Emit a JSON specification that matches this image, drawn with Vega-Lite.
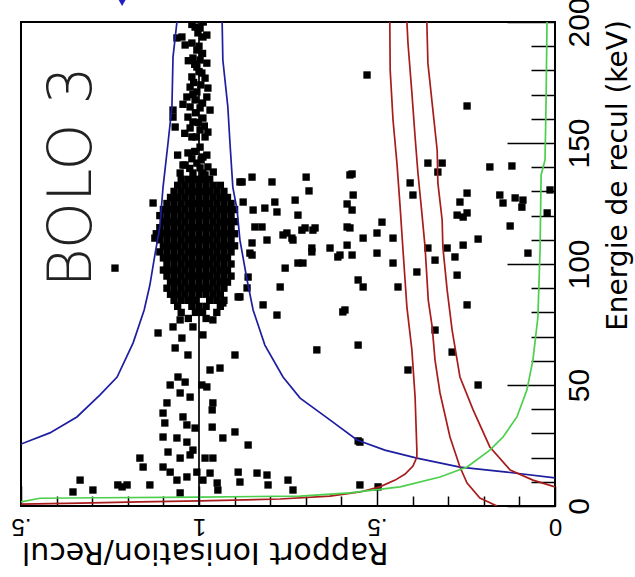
{
  "$schema": "https://vega.github.io/schema/vega-lite/v6.json",
  "width": 534,
  "height": 484,
  "autosize": {"type": "none"},
  "padding": {"left": 21, "top": 22, "right": 80, "bottom": 71},
  "background": "white",
  "config": {
    "view": {"stroke": "black", "strokeWidth": 2},
    "axis": {"grid": false, "domain": false, "tickColor": "black", "tickWidth": 1.5, "labelColor": "black", "titleColor": "black"}
  },
  "datasets": {
    "pts": [
      {"q":0.97,"e":135},{"q":0.99,"e":135},{"q":1.01,"e":135},{"q":1.03,"e":135},{"q":1.05,"e":135},
      {"q":0.94,"e":132.5},{"q":0.96,"e":132.5},{"q":0.98,"e":132.5},{"q":1.00,"e":132.5},{"q":1.02,"e":132.5},{"q":1.04,"e":132.5},{"q":1.06,"e":132.5},
      {"q":0.93,"e":130},{"q":0.95,"e":130},{"q":0.97,"e":130},{"q":0.99,"e":130},{"q":1.01,"e":130},{"q":1.03,"e":130},{"q":1.05,"e":130},{"q":1.07,"e":130},
      {"q":0.92,"e":127.5},{"q":0.94,"e":127.5},{"q":0.96,"e":127.5},{"q":0.98,"e":127.5},{"q":1.00,"e":127.5},{"q":1.02,"e":127.5},{"q":1.04,"e":127.5},{"q":1.06,"e":127.5},{"q":1.08,"e":127.5},
      {"q":0.91,"e":125},{"q":0.93,"e":125},{"q":0.95,"e":125},{"q":0.97,"e":125},{"q":0.99,"e":125},{"q":1.01,"e":125},{"q":1.03,"e":125},{"q":1.05,"e":125},{"q":1.07,"e":125},{"q":1.09,"e":125},
      {"q":0.90,"e":122.5},{"q":0.92,"e":122.5},{"q":0.94,"e":122.5},{"q":0.96,"e":122.5},{"q":0.98,"e":122.5},{"q":1.00,"e":122.5},{"q":1.02,"e":122.5},{"q":1.04,"e":122.5},{"q":1.06,"e":122.5},{"q":1.08,"e":122.5},{"q":1.10,"e":122.5},
      {"q":0.91,"e":120},{"q":0.93,"e":120},{"q":0.95,"e":120},{"q":0.97,"e":120},{"q":0.99,"e":120},{"q":1.01,"e":120},{"q":1.03,"e":120},{"q":1.05,"e":120},{"q":1.07,"e":120},{"q":1.09,"e":120},{"q":1.11,"e":120},
      {"q":0.90,"e":117.5},{"q":0.92,"e":117.5},{"q":0.94,"e":117.5},{"q":0.96,"e":117.5},{"q":0.98,"e":117.5},{"q":1.00,"e":117.5},{"q":1.02,"e":117.5},{"q":1.04,"e":117.5},{"q":1.06,"e":117.5},{"q":1.08,"e":117.5},{"q":1.10,"e":117.5},
      {"q":0.91,"e":115},{"q":0.93,"e":115},{"q":0.95,"e":115},{"q":0.97,"e":115},{"q":0.99,"e":115},{"q":1.01,"e":115},{"q":1.03,"e":115},{"q":1.05,"e":115},{"q":1.07,"e":115},{"q":1.09,"e":115},{"q":1.11,"e":115},
      {"q":0.90,"e":112.5},{"q":0.92,"e":112.5},{"q":0.94,"e":112.5},{"q":0.96,"e":112.5},{"q":0.98,"e":112.5},{"q":1.00,"e":112.5},{"q":1.02,"e":112.5},{"q":1.04,"e":112.5},{"q":1.06,"e":112.5},{"q":1.08,"e":112.5},{"q":1.10,"e":112.5},{"q":1.12,"e":112.5},
      {"q":0.91,"e":110},{"q":0.93,"e":110},{"q":0.95,"e":110},{"q":0.97,"e":110},{"q":0.99,"e":110},{"q":1.01,"e":110},{"q":1.03,"e":110},{"q":1.05,"e":110},{"q":1.07,"e":110},{"q":1.09,"e":110},{"q":1.11,"e":110},
      {"q":0.90,"e":107.5},{"q":0.92,"e":107.5},{"q":0.94,"e":107.5},{"q":0.96,"e":107.5},{"q":0.98,"e":107.5},{"q":1.00,"e":107.5},{"q":1.02,"e":107.5},{"q":1.04,"e":107.5},{"q":1.06,"e":107.5},{"q":1.08,"e":107.5},{"q":1.10,"e":107.5},
      {"q":0.91,"e":105},{"q":0.93,"e":105},{"q":0.95,"e":105},{"q":0.97,"e":105},{"q":0.99,"e":105},{"q":1.01,"e":105},{"q":1.03,"e":105},{"q":1.05,"e":105},{"q":1.07,"e":105},{"q":1.09,"e":105},{"q":1.11,"e":105},
      {"q":0.92,"e":102.5},{"q":0.94,"e":102.5},{"q":0.96,"e":102.5},{"q":0.98,"e":102.5},{"q":1.00,"e":102.5},{"q":1.02,"e":102.5},{"q":1.04,"e":102.5},{"q":1.06,"e":102.5},{"q":1.08,"e":102.5},{"q":1.10,"e":102.5},
      {"q":0.91,"e":100},{"q":0.93,"e":100},{"q":0.95,"e":100},{"q":0.97,"e":100},{"q":0.99,"e":100},{"q":1.01,"e":100},{"q":1.03,"e":100},{"q":1.05,"e":100},{"q":1.07,"e":100},{"q":1.09,"e":100},
      {"q":0.92,"e":97.5},{"q":0.94,"e":97.5},{"q":0.96,"e":97.5},{"q":0.98,"e":97.5},{"q":1.00,"e":97.5},{"q":1.02,"e":97.5},{"q":1.04,"e":97.5},{"q":1.06,"e":97.5},{"q":1.08,"e":97.5},{"q":1.10,"e":97.5},
      {"q":0.91,"e":95},{"q":0.93,"e":95},{"q":0.95,"e":95},{"q":0.97,"e":95},{"q":0.99,"e":95},{"q":1.01,"e":95},{"q":1.03,"e":95},{"q":1.05,"e":95},{"q":1.07,"e":95},{"q":1.09,"e":95},
      {"q":0.92,"e":92.5},{"q":0.94,"e":92.5},{"q":0.96,"e":92.5},{"q":0.98,"e":92.5},{"q":1.00,"e":92.5},{"q":1.02,"e":92.5},{"q":1.04,"e":92.5},{"q":1.06,"e":92.5},{"q":1.08,"e":92.5},
      {"q":0.93,"e":90},{"q":0.95,"e":90},{"q":0.97,"e":90},{"q":0.99,"e":90},{"q":1.01,"e":90},{"q":1.03,"e":90},{"q":1.05,"e":90},{"q":1.07,"e":90},{"q":1.09,"e":90},
      {"q":0.94,"e":87.5},{"q":0.96,"e":87.5},{"q":0.98,"e":87.5},{"q":1.00,"e":87.5},{"q":1.02,"e":87.5},{"q":1.04,"e":87.5},{"q":1.06,"e":87.5},{"q":1.08,"e":87.5},
      {"q":0.93,"e":85},{"q":0.95,"e":85},{"q":0.97,"e":85},{"q":1.01,"e":85},{"q":1.03,"e":85},{"q":1.05,"e":85},{"q":1.07,"e":85},
      {"q":0.94,"e":82.5},{"q":0.98,"e":82.5},{"q":1.00,"e":82.5},{"q":1.02,"e":82.5},{"q":1.06,"e":82.5},
      {"q":0.95,"e":80},{"q":0.99,"e":80},{"q":1.01,"e":80},{"q":1.05,"e":80},
      {"q":0.98,"e":77.5},{"q":1.03,"e":77.5},
      {"q":1.053,"e":76.9},{"q":1.017,"e":74.0},{"q":0.961,"e":76.9},{"q":1.073,"e":74.0},{"q":0.989,"e":70.7},
      {"q":1.011,"e":197.9},{"q":0.997,"e":197.5},{"q":0.989,"e":193.8},{"q":0.978,"e":194.6},{"q":1.062,"e":193.4},{"q":1.048,"e":193.8},
      {"q":1.020,"e":191.3},{"q":1.006,"e":188.4},{"q":1.039,"e":190.5},{"q":1.017,"e":185.1},{"q":0.997,"e":184.3},{"q":0.978,"e":183.0},
      {"q":1.006,"e":181.4},{"q":1.020,"e":177.3},{"q":0.992,"e":178.9},{"q":0.983,"e":176.8},{"q":1.025,"e":173.1},{"q":1.006,"e":171.1},
      {"q":0.975,"e":172.7},{"q":1.034,"e":169.0},{"q":1.011,"e":167.8},{"q":0.978,"e":169.0},{"q":1.025,"e":164.9},{"q":0.997,"e":164.5},
      {"q":0.969,"e":163.6},{"q":1.073,"e":163.6},{"q":1.073,"e":160.7},{"q":1.067,"e":156.6},{"q":1.031,"e":160.7},{"q":1.017,"e":158.7},
      {"q":0.989,"e":160.3},{"q":1.025,"e":156.2},{"q":0.997,"e":155.4},{"q":0.975,"e":154.5},{"q":1.020,"e":152.5},{"q":0.983,"e":152.5},
      {"q":0.997,"e":148.3},{"q":1.031,"e":145.9},{"q":0.989,"e":144.2},{"q":0.978,"e":145.0},{"q":1.006,"e":141.7},{"q":1.039,"e":140.9},
      {"q":0.997,"e":139.7},{"q":0.975,"e":140.1},{"q":1.053,"e":137.6},{"q":1.017,"e":137.6},{"q":0.989,"e":137.6},{"q":1.045,"e":140.9},{"q":0.983,"e":136.8},
      {"q":1.003,"e":195.5},{"q":1.000,"e":190.0},{"q":0.990,"e":187.0},{"q":1.012,"e":182.5},{"q":1.000,"e":179.5},{"q":1.015,"e":175.0},
      {"q":0.995,"e":174.0},{"q":1.017,"e":170.0},{"q":0.990,"e":166.5},{"q":1.010,"e":162.5},{"q":1.045,"e":166.0},{"q":1.002,"e":158.5},
      {"q":0.985,"e":157.0},{"q":1.008,"e":152.5},{"q":1.040,"e":154.0},{"q":1.012,"e":146.5},{"q":1.020,"e":143.5},{"q":0.994,"e":143.0},
      {"q":1.026,"e":139.5},{"q":0.96,"e":138.0},{"q":1.06,"e":145.0},{"q":1.030,"e":184.0},{"q":0.988,"e":200.0},{"q":1.020,"e":199.0},
      {"q":0.528,"e":178.1},{"q":0.247,"e":165.3},{"q":0.357,"e":141.7},{"q":0.317,"e":141.7},{"q":0.329,"e":138.0},{"q":0.183,"e":140.1},
      {"q":0.121,"e":140.5},{"q":0.699,"e":135.9},{"q":0.691,"e":130.2},{"q":0.570,"e":137.2},{"q":0.407,"e":133.5},{"q":0.567,"e":128.5},
      {"q":0.584,"e":124.8},{"q":0.570,"e":122.3},{"q":0.399,"e":128.5},{"q":0.247,"e":129.3},{"q":0.267,"e":125.6},{"q":0.155,"e":128.5},
      {"q":0.146,"e":125.2},{"q":0.112,"e":127.3},{"q":0.090,"e":126.4},{"q":0.093,"e":123.5},{"q":0.022,"e":121.1},{"q":0.275,"e":120.2},
      {"q":0.258,"e":119.4},{"q":0.247,"e":121.1},{"q":0.126,"e":115.7},{"q":0.711,"e":114.0},{"q":0.680,"e":114.0},{"q":0.576,"e":114.9},
      {"q":0.486,"e":117.3},{"q":0.500,"e":112.8},{"q":0.539,"e":110.7},{"q":0.455,"e":110.7},{"q":0.584,"e":107.8},{"q":0.632,"e":106.6},
      {"q":0.683,"e":106.6},{"q":0.258,"e":107.8},{"q":0.216,"e":110.3},{"q":0.303,"e":106.6},{"q":0.357,"e":106.6},{"q":0.014,"e":130.6},
      {"q":0.683,"e":105.0},{"q":0.610,"e":102.9},{"q":0.570,"e":103.7},{"q":0.500,"e":104.5},{"q":0.708,"e":100.4},{"q":0.455,"e":100.4},
      {"q":0.337,"e":101.6},{"q":0.281,"e":102.9},{"q":0.275,"e":95.4},{"q":0.553,"e":93.4},{"q":0.539,"e":90.5},{"q":0.441,"e":90.5},
      {"q":0.388,"e":96.7},{"q":0.076,"e":104.5},{"q":0.590,"e":81.0},{"q":0.247,"e":83.1},{"q":0.337,"e":72.7},{"q":0.553,"e":66.5},
      {"q":0.669,"e":64.5},{"q":0.289,"e":63.6},{"q":0.413,"e":56.2},{"q":0.216,"e":50.0},{"q":0.553,"e":26.9},{"q":0.548,"e":8.7},
      {"q":0.851,"e":135.9},{"q":0.879,"e":133.9},{"q":0.795,"e":133.9},{"q":0.576,"e":136.8},{"q":0.876,"e":125.6},{"q":0.848,"e":122.3},
      {"q":0.815,"e":123.1},{"q":0.787,"e":125.6},{"q":0.781,"e":121.5},{"q":0.730,"e":126.4},{"q":0.722,"e":120.2},{"q":0.843,"e":115.3},
      {"q":0.851,"e":108.7},{"q":0.851,"e":103.7},{"q":0.809,"e":109.9},{"q":0.764,"e":112.0},{"q":0.739,"e":110.7},{"q":0.702,"e":114.9},
      {"q":0.674,"e":114.9},{"q":0.604,"e":103.7},{"q":0.584,"e":115.3},{"q":0.758,"e":98.3},{"q":0.772,"e":90.5},{"q":0.820,"e":83.1},
      {"q":0.781,"e":78.9},{"q":0.596,"e":80.2},{"q":1.129,"e":125.2},{"q":1.236,"e":98.3},{"q":1.115,"e":71.5},{"q":0.885,"e":86.4},
      {"q":0.862,"e":94.6},{"q":0.823,"e":115.3},{"q":0.753,"e":112.8},{"q":0.736,"e":109.9},{"q":1.124,"e":110.7},{"q":0.885,"e":133.9},
      {"q":0.722,"e":100.4},{"q":0.857,"e":104.5},{"q":0.890,"e":86.4},{"q":0.865,"e":90.1},{"q":0.933,"e":83.9},
      {"q":1.048,"e":69.4},{"q":1.067,"e":65.3},{"q":1.031,"e":62.4},{"q":0.899,"e":62.4},{"q":0.941,"e":57.0},{"q":0.969,"e":56.2},
      {"q":1.059,"e":53.3},{"q":1.081,"e":50.0},{"q":1.039,"e":51.2},{"q":1.053,"e":46.7},{"q":1.025,"e":45.0},{"q":0.992,"e":50.0},
      {"q":0.978,"e":49.2},{"q":0.961,"e":42.6},{"q":0.963,"e":39.7},{"q":1.090,"e":42.6},{"q":1.101,"e":38.4},{"q":1.096,"e":34.3},
      {"q":1.045,"e":36.8},{"q":1.034,"e":33.5},{"q":1.011,"e":32.2},{"q":0.963,"e":32.6},{"q":0.899,"e":30.6},{"q":0.933,"e":28.1},
      {"q":0.862,"e":25.2},{"q":1.101,"e":28.5},{"q":1.062,"e":28.1},{"q":1.034,"e":26.4},{"q":1.017,"e":23.1},{"q":1.087,"e":22.3},
      {"q":1.053,"e":19.8},{"q":1.025,"e":21.1},{"q":0.983,"e":19.8},{"q":0.961,"e":19.8},{"q":1.166,"e":19.8},{"q":1.157,"e":16.1},
      {"q":1.101,"e":16.1},{"q":1.081,"e":14.0},{"q":1.062,"e":10.7},{"q":1.034,"e":12.0},{"q":1.006,"e":14.0},{"q":0.989,"e":10.7},
      {"q":0.969,"e":13.6},{"q":0.949,"e":9.5},{"q":0.890,"e":14.0},{"q":0.837,"e":13.6},{"q":0.809,"e":12.8},{"q":0.806,"e":8.7},
      {"q":0.750,"e":10.7},{"q":0.885,"e":9.9},{"q":1.334,"e":10.7},{"q":1.228,"e":8.7},{"q":1.202,"e":8.7},{"q":1.138,"e":8.7},
      {"q":1.354,"e":5.8},{"q":1.298,"e":6.6},{"q":1.053,"e":5.4},{"q":0.947,"e":6.6},{"q":0.736,"e":6.6},{"q":0.548,"e":26.4},
      {"q":0.497,"e":7.9},{"q":1.216,"e":7.9}
    ],
    "curves": [
      {"c":"blueL","q":1.062,"e":200},{"c":"blueL","q":1.073,"e":185.5},{"c":"blueL","q":1.076,"e":165},{"c":"blueL","q":1.087,"e":150},
      {"c":"blueL","q":1.101,"e":131.8},{"c":"blueL","q":1.110,"e":115.3},{"c":"blueL","q":1.124,"e":103.7},{"c":"blueL","q":1.138,"e":91.3},
      {"c":"blueL","q":1.154,"e":81},{"c":"blueL","q":1.185,"e":67.4},{"c":"blueL","q":1.230,"e":53.3},{"c":"blueL","q":1.278,"e":45.9},
      {"c":"blueL","q":1.343,"e":36.8},{"c":"blueL","q":1.419,"e":30.2},{"c":"blueL","q":1.5,"e":25.6},
      {"c":"blueR","q":0.935,"e":200},{"c":"blueR","q":0.933,"e":184.3},{"c":"blueR","q":0.919,"e":164.9},{"c":"blueR","q":0.913,"e":150},
      {"c":"blueR","q":0.905,"e":131.8},{"c":"blueR","q":0.893,"e":122.3},{"c":"blueR","q":0.885,"e":109.9},{"c":"blueR","q":0.865,"e":93.4},
      {"c":"blueR","q":0.848,"e":81},{"c":"blueR","q":0.815,"e":66.5},{"c":"blueR","q":0.764,"e":53.3},{"c":"blueR","q":0.716,"e":44.6},
      {"c":"blueR","q":0.640,"e":36.4},{"c":"blueR","q":0.556,"e":27.3},{"c":"blueR","q":0.478,"e":23.1},{"c":"blueR","q":0.388,"e":19.8},
      {"c":"blueR","q":0.267,"e":16.1},{"c":"blueR","q":0.135,"e":14.0},{"c":"blueR","q":0,"e":11.6},
      {"c":"redL","q":0.464,"e":200},{"c":"redL","q":0.463,"e":180.2},{"c":"redL","q":0.455,"e":159.5},{"c":"redL","q":0.444,"e":141.7},
      {"c":"redL","q":0.435,"e":123.5},{"c":"redL","q":0.427,"e":105.8},{"c":"redL","q":0.416,"e":82.2},{"c":"redL","q":0.402,"e":64.5},
      {"c":"redL","q":0.393,"e":45},{"c":"redL","q":0.388,"e":23.1},{"c":"redL","q":0.388,"e":20.2},{"c":"redL","q":0.399,"e":16.5},
      {"c":"redL","q":0.421,"e":13.2},{"c":"redL","q":0.449,"e":10.7},{"c":"redL","q":0.492,"e":7.9},{"c":"redL","q":0.548,"e":5.8},
      {"c":"redL","q":0.632,"e":4.1},{"c":"redL","q":0.772,"e":2.9},{"c":"redL","q":0.997,"e":2.1},{"c":"redL","q":1.166,"e":1.7},
      {"c":"redL","q":1.334,"e":1.2},{"c":"redL","q":1.5,"e":0.8},
      {"c":"redM","q":0.416,"e":200},{"c":"redM","q":0.413,"e":191.3},{"c":"redM","q":0.402,"e":170.7},{"c":"redM","q":0.393,"e":152.5},
      {"c":"redM","q":0.385,"e":137.6},{"c":"redM","q":0.374,"e":121.1},{"c":"redM","q":0.365,"e":107},{"c":"redM","q":0.356,"e":85.1},
      {"c":"redM","q":0.345,"e":74},{"c":"redM","q":0.337,"e":60.3},{"c":"redM","q":0.323,"e":46.7},{"c":"redM","q":0.295,"e":28.5},
      {"c":"redM","q":0.267,"e":16.1},{"c":"redM","q":0.247,"e":9.5},{"c":"redM","q":0.211,"e":3.3},{"c":"redM","q":0.163,"e":0},
      {"c":"redR","q":0.360,"e":200},{"c":"redR","q":0.357,"e":183},{"c":"redR","q":0.343,"e":163.6},{"c":"redR","q":0.331,"e":147.1},
      {"c":"redR","q":0.329,"e":133.5},{"c":"redR","q":0.317,"e":118.2},{"c":"redR","q":0.315,"e":107},{"c":"redR","q":0.303,"e":89.3},
      {"c":"redR","q":0.289,"e":72.7},{"c":"redR","q":0.267,"e":53.3},{"c":"redR","q":0.230,"e":39.7},{"c":"redR","q":0.183,"e":24.4},
      {"c":"redR","q":0.126,"e":14.9},{"c":"redR","q":0.062,"e":10.7},{"c":"redR","q":0,"e":7.9},
      {"c":"green","q":0.0225,"e":200},{"c":"green","q":0.025,"e":167.8},{"c":"green","q":0.028,"e":143},{"c":"green","q":0.039,"e":136.8},
      {"c":"green","q":0.042,"e":105.8},{"c":"green","q":0.048,"e":78.1},{"c":"green","q":0.062,"e":60.3},{"c":"green","q":0.079,"e":47.9},
      {"c":"green","q":0.107,"e":36.8},{"c":"green","q":0.146,"e":28.5},{"c":"green","q":0.183,"e":23.1},{"c":"green","q":0.247,"e":16.1},
      {"c":"green","q":0.323,"e":12.0},{"c":"green","q":0.435,"e":7.9},{"c":"green","q":0.576,"e":5.4},{"c":"green","q":0.716,"e":4.1},
      {"c":"green","q":0.997,"e":3.7},{"c":"green","q":1.278,"e":3.4},{"c":"green","q":1.447,"e":3.2},{"c":"green","q":1.5,"e":1.7},
      {"c":"ref","q":1,"e":0},{"c":"ref","q":1,"e":200}
    ],
    "labels": [{"t":"BOLO 3","q":1.354,"e":136}],
    "arrow": [{"q":1.216,"e":208.5}]
  },
  "layer": [
    {
      "data": {"name": "pts"},
      "mark": {"type": "point", "shape": "square", "filled": true, "color": "black", "opacity": 1, "size": 54, "clip": true},
      "encoding": {
        "x": {"field": "q", "type": "quantitative",
              "scale": {"domain": [0, 1.5], "reverse": true, "nice": false, "zero": false},
              "axis": {"orient": "bottom", "values": [0.1,0.2,0.3,0.4,0.6,0.7,0.8,0.9,1.1,1.2,1.3,1.4], "tickSize": -10, "labels": false, "title": null}},
        "y": {"field": "e", "type": "quantitative",
              "scale": {"domain": [0, 200], "nice": false, "zero": false},
              "axis": {"orient": "right", "values": [10,20,30,40,60,70,80,90,110,120,130,140,160,170,180,190], "tickSize": -24, "labels": false, "title": null}}
      }
    },
    {
      "data": {"name": "curves"},
      "mark": {"type": "line", "strokeWidth": 1.7, "clip": true},
      "encoding": {
        "x": {"field": "q", "type": "quantitative",
              "scale": {"domain": [0, 1.5], "reverse": true, "nice": false, "zero": false},
              "axis": {"orient": "bottom", "values": [0, 0.5, 1, 1.5], "tickSize": -20,
                       "labelExpr": "datum.value == 1 ? '1' : (datum.value == 0 ? '0' : '.5')",
                       "labelAngle": 180, "labelAlign": "center", "labelBaseline": "alphabetic", "labelPadding": 32,
                       "labelFont": "Liberation Sans", "labelFontSize": 24, "labelFlush": false, "labelOverlap": false,
                       "title": "Rapport Ionisation/Recul", "titleAngle": 180, "titleAlign": "left", "titleBaseline": "alphabetic",
                       "titleX": 367, "titleY": 36, "titleFont": "DejaVu Sans", "titleFontSize": 30, "titleFontWeight": "normal"}},
        "y": {"field": "e", "type": "quantitative",
              "scale": {"domain": [0, 200], "nice": false, "zero": false},
              "axis": {"orient": "right", "values": [0, 50, 100, 150, 200], "tickSize": -48,
                       "labelAngle": 270, "labelAlign": "center", "labelBaseline": "alphabetic", "labelPadding": 81,
                       "labelFont": "Liberation Sans", "labelFontSize": 30, "labelFlush": false, "labelOverlap": false,
                       "encode": {"labels": {"update": {"angle": {"value": 270}, "align": {"value": "center"}, "baseline": {"value": "alphabetic"}}}},
                       "title": "Energie de recul (keV)", "titleAngle": 270, "titleAlign": "center", "titleBaseline": "alphabetic",
                       "titleX": 71, "titleY": 153, "titleFont": "DejaVu Sans", "titleFontSize": 28, "titleFontWeight": "normal"}},
        "color": {"field": "c", "type": "nominal", "legend": null,
                  "scale": {"domain": ["blueL","blueR","redL","redM","redR","green","ref"],
                            "range": ["#1e1ea0","#1e1ea0","#a81c1c","#a81c1c","#a81c1c","#4ccf4c","#000000"]}},
        "order": {"field": "e", "type": "quantitative"}
      }
    },
    {
      "data": {"name": "labels"},
      "mark": {"type": "text", "angle": 270, "align": "center", "baseline": "middle", "font": "DejaVu Sans", "fontWeight": 200, "fontSize": 60, "color": "#222222"},
      "encoding": {
        "x": {"field": "q", "type": "quantitative", "scale": {"domain": [0, 1.5], "reverse": true, "nice": false, "zero": false}, "axis": null},
        "y": {"field": "e", "type": "quantitative", "scale": {"domain": [0, 200], "nice": false, "zero": false}, "axis": null},
        "text": {"field": "t"}
      }
    },
    {
      "data": {"name": "arrow"},
      "mark": {"type": "point", "shape": "triangle-down", "filled": true, "color": "#2020c0", "opacity": 1, "size": 110, "clip": false},
      "encoding": {
        "x": {"field": "q", "type": "quantitative", "scale": {"domain": [0, 1.5], "reverse": true, "nice": false, "zero": false}, "axis": null},
        "y": {"field": "e", "type": "quantitative", "scale": {"domain": [0, 200], "nice": false, "zero": false}, "axis": null}
      }
    }
  ],
  "resolve": {"axis": {"x": "independent", "y": "independent"}}
}
